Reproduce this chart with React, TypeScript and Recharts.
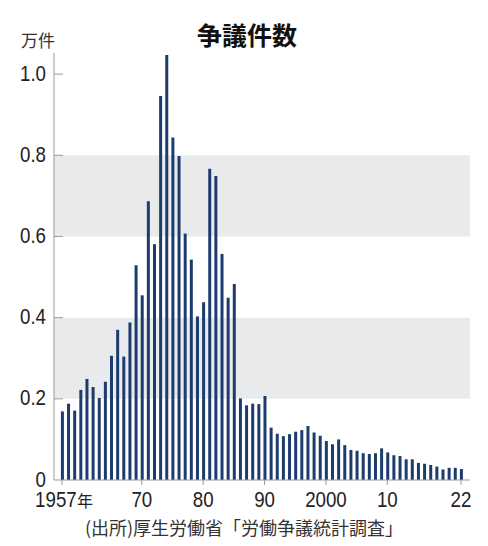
import React from 'react';
import { BarChart, Bar, XAxis, YAxis, ReferenceArea } from 'recharts';

const years: number[] = [
  1957, 1958, 1959, 1960, 1961, 1962, 1963, 1964, 1965, 1966, 1967, 1968, 1969,
  1970, 1971, 1972, 1973, 1974, 1975, 1976, 1977, 1978, 1979, 1980, 1981, 1982,
  1983, 1984, 1985, 1986, 1987, 1988, 1989, 1990, 1991, 1992, 1993, 1994, 1995,
  1996, 1997, 1998, 1999, 2000, 2001, 2002, 2003, 2004, 2005, 2006, 2007, 2008,
  2009, 2010, 2011, 2012, 2013, 2014, 2015, 2016, 2017, 2018, 2019, 2020, 2021, 2022,
];

// 争議件数 (万件)
const disputes: number[] = [
  0.169, 0.188, 0.171, 0.222, 0.249, 0.229, 0.202, 0.242, 0.306, 0.370, 0.304, 0.388, 0.529,
  0.455, 0.687, 0.581, 0.946, 1.047, 0.844, 0.798, 0.607, 0.543, 0.403, 0.438, 0.767, 0.749,
  0.557, 0.449, 0.483, 0.201, 0.184, 0.188, 0.187, 0.207, 0.129, 0.114, 0.108, 0.113, 0.119,
  0.123, 0.133, 0.117, 0.109, 0.096, 0.088, 0.100, 0.086, 0.074, 0.072, 0.066, 0.064, 0.066,
  0.078, 0.068, 0.061, 0.059, 0.051, 0.051, 0.042, 0.040, 0.037, 0.033, 0.026, 0.030, 0.030, 0.027,
];

const xTicks: number[] = [1957, 1970, 1980, 1990, 2000, 2010, 2022];
const xTickLabels: string[] = ['1957', '70', '80', '90', '2000', '10', '22'];
const yTicks: number[] = [0, 0.2, 0.4, 0.6, 0.8, 1.0];
const yTickLabels: string[] = ['0', '0.2', '0.4', '0.6', '0.8', '1.0'];
const bands: [number, number][] = [
  [0.2, 0.4],
  [0.6, 0.8],
];

const data = years.map((y, i) => ({ year: y, value: disputes[i] }));

const NUM_FONT = "'Liberation Sans', Arial, sans-serif";
const CJK_FONT = "'Noto Sans CJK JP', 'Noto Sans CJK SC', sans-serif";
const SX = 0.85;

const YTick = (props: any) => {
  const { x, y, payload } = props;
  const idx = yTicks.indexOf(payload.value);
  const label = idx >= 0 ? yTickLabels[idx] : String(payload.value);
  return (
    <g>
      {payload.value !== 0 && (
        <line x1={x + 8} x2={x + 17} y1={y} y2={y} stroke="#9a9a9a" strokeWidth={1} />
      )}
      <text
        transform={`translate(${x},${y}) scale(${SX},1)`}
        x={0}
        y={0}
        dy={6.5}
        textAnchor="end"
        fontSize={22}
        fill="#222"
        fontFamily={NUM_FONT}
      >
        {label}
      </text>
    </g>
  );
};

const XTick = (props: any) => {
  const { x, y, payload } = props;
  const idx = xTicks.indexOf(payload.value);
  const label = idx >= 0 ? xTickLabels[idx] : String(payload.value);
  if (idx === 0) {
    return (
      <g transform={`translate(${x},${y})`}>
        <text
          transform={`scale(${SX},1)`}
          x={0}
          y={0}
          dy={20}
          textAnchor="end"
          dx={17.3}
          fontSize={22}
          fill="#222"
          fontFamily={NUM_FONT}
        >
          {label}
        </text>
        <text x={15} y={0} dy={20} fontSize={16} fill="#222" fontFamily={CJK_FONT}>
          年
        </text>
      </g>
    );
  }
  return (
    <text
      transform={`translate(${x},${y}) scale(${SX},1)`}
      x={0}
      y={0}
      dy={20}
      textAnchor="middle"
      fontSize={22}
      fill="#222"
      fontFamily={NUM_FONT}
    >
      {label}
    </text>
  );
};

export default function App() {
  return (
    <div style={{ position: 'absolute', left: 0, top: 0, width: 488, height: 546, background: '#fff' }}>
      <div
        style={{
          position: 'absolute',
          left: 0,
          width: 488,
          top: 17,
          textAlign: 'center',
          paddingLeft: 3,
          fontFamily: CJK_FONT,
          fontWeight: 700,
          fontSize: 25,
          color: '#111',
          lineHeight: '34px',
        }}
      >
        争議件数
      </div>
      <div
        style={{
          position: 'absolute',
          left: 21,
          top: 28,
          fontFamily: CJK_FONT,
          fontSize: 17,
          color: '#333',
          lineHeight: '24px',
        }}
      >
        万件
      </div>
      <div style={{ position: 'absolute', left: 0, top: 0 }}>
        <BarChart
          width={488}
          height={546}
          data={data}
          margin={{ top: 53, right: 18, bottom: 36, left: 0 }}
        >
          {bands.map(([a, b], i) => (
            <ReferenceArea key={i} y1={a} y2={b} fill="#e9eaec" fillOpacity={1} stroke="none" ifOverflow="extendDomain" />
          ))}
          <XAxis
            dataKey="year"
            type="number"
            domain={[1955.7, 2023.47]}
            allowDataOverflow
            ticks={xTicks}
            interval={0}
            tick={<XTick />}
            tickSize={5}
            tickMargin={2}
            tickLine={{ stroke: '#9a9a9a' }}
            axisLine={{ stroke: '#9a9a9a' }}
            height={30}
          />
          <YAxis
            type="number"
            domain={[0, 1.052]}
            allowDataOverflow
            ticks={yTicks}
            interval={0}
            tick={<YTick />}
            tickLine={false}
            tickSize={0}
            tickMargin={8}
            axisLine={{ stroke: '#9a9a9a' }}
            width={54}
          />
          <Bar dataKey="value" fill="#1d3c6e" barSize={3} isAnimationActive={false} />
        </BarChart>
      </div>
      <div
        style={{
          position: 'absolute',
          left: 0,
          width: 488,
          top: 515,
          textAlign: 'center',
          paddingRight: 0,
          fontFamily: CJK_FONT,
          fontSize: 18,
          color: '#333',
          lineHeight: '24px',
        }}
      >
        (出所)厚生労働省「労働争議統計調査」
      </div>
    </div>
  );
}
